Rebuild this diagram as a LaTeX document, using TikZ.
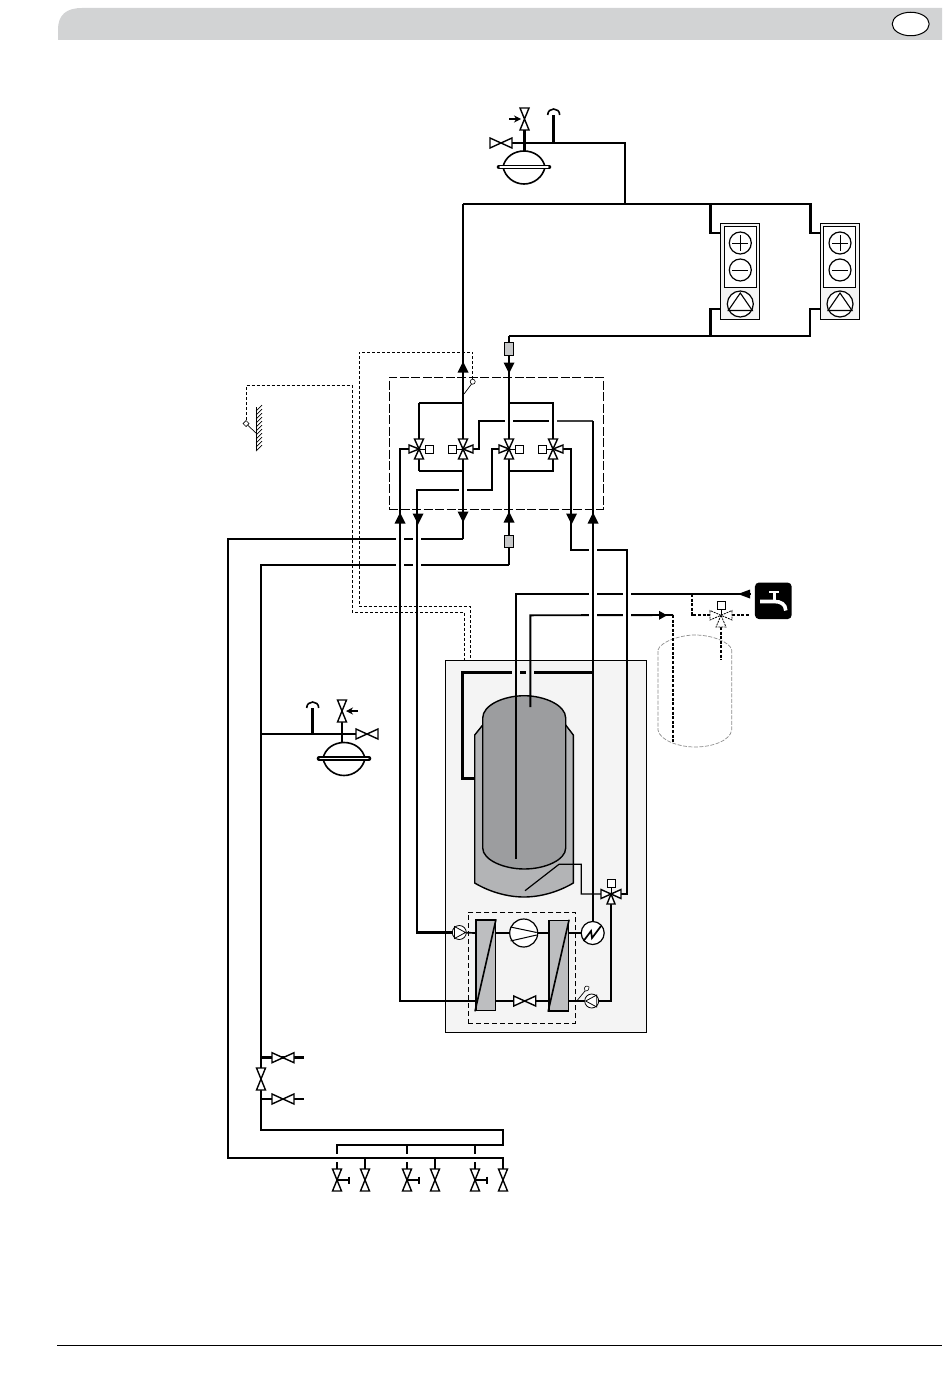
\documentclass[tikz,border=0pt]{standalone}
\usetikzlibrary{arrows.meta, positioning, shapes.geometric}
\definecolor{bandgray}{HTML}{D2D3D4}
\definecolor{panelgray}{HTML}{F4F4F4}
\definecolor{tankdark}{HTML}{9C9D9F}
\definecolor{tanklight}{HTML}{B3B4B6}
\definecolor{plategray}{HTML}{BDBEC0}
\newcommand{\pipegap}[3][white]{\fill[#1] (#2-4,#3-2) rectangle (#2+4,#3+2);}
\tikzset{
  pipe/.style     = {line width=2.5pt, line join=miter},
  waterline/.style= {line width=1.9pt, line join=miter},
  innerline/.style= {line width=1.7pt},
  thinline/.style = {line width=1.2pt},
  wire/.style     = {line width=0.8pt, dash pattern=on 3pt off 2pt},
  future/.style   = {line width=2pt, dash pattern=on 3pt off 1.6pt},
  symbol/.style   = {line width=1.4pt, draw=black, fill=white},
  panelbox/.style = {rectangle, draw, fill=panelgray, line width=1pt, inner sep=0pt},
  coilbox/.style  = {rectangle, draw, fill=panelgray, line width=1pt, inner sep=0pt,
                     minimum width=39pt, minimum height=96pt},
  dialbox/.style  = {rectangle, draw, fill=white, line width=1pt, inner sep=0pt,
                     minimum width=32pt, minimum height=61pt},
  filterbox/.style= {rectangle, draw, fill=plategray!85, line width=1pt, inner sep=0pt,
                     minimum width=9.4pt, minimum height=12.5pt},
  platebox/.style = {rectangle, draw, fill=plategray, line width=1.5pt, inner sep=0pt,
                     minimum width=19.5pt, minimum height=90.5pt},
  round/.style    = {circle, draw, fill=white, line width=1.2pt, inner sep=0pt},
  squarebox/.style= {rectangle, draw, fill=white, line width=0.9pt, inner sep=0pt,
                     minimum size=8pt},
  gatevalve/.pic  = {\draw[symbol] (-11,-5) -- (11,5) -- (11,-5) -- (-11,5) -- cycle;},
  flowhead/.pic   = {\fill (-5.5,5.5) -- (0,-5.5) -- (5.5,5.5) -- cycle;},
  threeway/.pic   = {
    \draw[black, line width=1pt] (0,0) -- (7,0);
    \draw[symbol] (0,0) -- (-4.5,-10) -- (4.5,-10) -- cycle;
    \draw[symbol] (0,0) -- (-4.5,10) -- (4.5,10) -- cycle;
    \draw[symbol] (0,0) -- (-10,-4) -- (-10,4) -- cycle;
    \node[squarebox] at (10.8,0) {};},
  handvalve/.pic  = {
    \draw[pipe] (0,0) -- (12,0);
    \draw[pipe] (12,-3.5) -- (12,3.5);
    \draw[symbol] (-4.5,-11) -- (4.5,11) -- (-4.5,11) -- (4.5,-11) -- cycle;},
  plainvalve/.pic = {\draw[symbol] (-4.5,-11) -- (4.5,11) -- (-4.5,11) -- (4.5,-11) -- cycle;},
  ventcap/.pic    = {\draw[line width=1.6pt] (-6,0) .. controls (-6,-8) and (6,-8) .. (6,0);},
  vessel/.pic     = {
    \draw[symbol, line width=1.6pt] (-21,0) .. controls (-19,-10) and (-10,-16) .. (0,-16)
        .. controls (10,-16) and (19,-10) .. (21,0)
        .. controls (19,10) and (10,17) .. (0,17)
        .. controls (-10,17) and (-19,10) .. (-21,0) -- cycle;
    \draw[line width=4.6pt, line cap=round] (-25,0) -- (25,0);
    \draw[white, line width=1.4pt, line cap=round] (-24,0) -- (24,0);},
  fancoil/.pic    = {
    \node[coilbox] (-box) at (0,0) {};
    \node[dialbox] at (-0.2,-14.5) {};
    \node[round, minimum size=22pt] at (0,-28) {};
    \draw[line width=1pt] (-8,-28) -- (8,-28) (0,-36) -- (0,-20);
    \node[round, minimum size=22pt] at (0,-1) {};
    \draw[line width=1pt] (-8,-1) -- (8,-1);
    \node[round, minimum size=26pt] at (0,33) {};
    \draw[line width=1.1pt] (0,22) -- (12,39.5) -- (-12,39.5) -- cycle;}
}
\begin{document}
\begin{tikzpicture}[x=1pt, y=-1pt]
  \useasboundingbox (0,0) rectangle (950,1378);

  % page band and foot line
  \fill[bandgray] (58,40) -- (58,30) .. controls (58,15) and (66,8) .. (82,8)
      -- (942,8) -- (942,40) -- cycle;
  \node[ellipse, draw, fill=white, line width=1pt, minimum width=37pt, minimum height=23.5pt,
        inner sep=0pt] (langmark) at (910.7,24) {};
  \draw[line width=0.8pt] (57,1345.5) -- (942,1345.5);

  % boxes
  \node[panelbox, minimum width=201.5pt, minimum height=372.5pt] (unitcase) at (546,846.5) {};
  \node[draw, line width=0.8pt, dash pattern=on 9pt off 2.5pt, minimum width=214pt,
        minimum height=132pt, inner sep=0pt] (hydrokit) at (496,443) {};

  % coordinates of the circuit
  \coordinate (valveA) at (419,449);
  \coordinate (valveB) at (463,449);
  \coordinate (valveC) at (509,449);
  \coordinate (valveD) at (553,449);
  \coordinate (mixvalve) at (611,894);
  \coordinate (heater) at (592.7,933);
  \coordinate (pumpA) at (459.3,932.5);
  \coordinate (pumpB) at (591.7,1001);
  \coordinate (teeTop) at (625,204);
  \coordinate (bankTop) at (463,204);
  \coordinate (bankBack) at (509,336);
  \coordinate (drainTee) at (463,539);
  \coordinate (returnTee) at (509,565);
  \coordinate (coldTee) at (691.7,594);
  \coordinate (hotEnd) at (673,615);
  \coordinate (tapEnd) at (751,594);

  % upper vessel group
  \draw[pipe] (512,143) -- (625,143) -- (teeTop);
  \draw[pipe] (524.5,130) -- (524.5,152);
  \draw[pipe] (553.7,143) -- (553.7,115);
  \pic at (553.7,115) {ventcap};
  \pic at (524,167) {vessel};
  \pic at (501,143) {gatevalve};
  \pic at (524.5,119) {plainvalve};
  \draw[-{Stealth[length=7pt,width=7pt]}, line width=1.1pt] (509,119) -- (521,119);

  % header to the coils
  \draw[pipe] (bankTop) -- (810.7,204) -- (810.7,233) -- (821,233);
  \draw[pipe] (710.7,204) -- (710.7,233) -- (721,233);
  \draw[pipe] (bankBack) -- (810,336) -- (810,309) -- (821,309);
  \draw[pipe] (710.7,336) -- (710.7,309) -- (721,309);
  \pic (coilA) at (740.3,271) {fancoil};
  \pic (coilB) at (840,271) {fancoil};

  % room thermostat wires
  \draw[wire] (246,420) -- (246,385.7) -- (352,385.7) -- (352,612) -- (464.3,612) -- (464.3,660);
  \draw[wire] (472.7,379) -- (472.7,352) -- (359,352) -- (359,606.7) -- (470.3,606.7) -- (470.3,660);
  \draw[line width=0.7pt] (464,394) -- (471.5,384);
  \node[circle, draw, fill=white, line width=0.6pt, minimum size=5pt, inner sep=0pt] (flowprobe) at (472.7,381.7) {};
  \draw[line width=0.9pt] (256,407) -- (256,450);
  \draw[line width=0.7pt] (256,411) -- (262,405) (256,415) -- (262,409) (256,419) -- (262,413)
      (256,423) -- (262,417) (256,427) -- (262,421) (256,431) -- (262,425) (256,435) -- (262,429)
      (256,439) -- (262,433) (256,443) -- (262,437) (256,447) -- (262,441) (256,451) -- (262,445);
  \draw[line width=0.7pt, fill=white] (246,420.5) -- (249,423.5) -- (246,426.5) -- (243,423.5) -- cycle;
  \draw[line width=0.7pt] (248,425.5) -- (256,433);

  % lower mains
  \draw[pipe] (drainTee) -- (228,539) -- (228,1158) -- (503,1158) -- (503,1169);
  \draw[pipe] (returnTee) -- (261,565) -- (261,1130) -- (503,1130) -- (503,1145) -- (337,1145) -- (337,1154);
  \draw[pipe] (valveD) -- (571,449) -- (571,550) -- (627,550) -- (627,894) -- (mixvalve);
  \pipegap{400}{539}
  \pipegap{417}{539}
  \pipegap{400}{565}
  \pipegap{417}{565}
  \pipegap{593}{550}

  % water side
  \draw[pipe] (valveA) -- (400,449) -- (400,1001) -- (476,1001);
  \draw[pipe] (valveC) -- (492,449) -- (492,490) -- (417,490) -- (417,932.5) -- (pumpA);
  \pipegap{463}{490}
  \draw[pipe] (bankTop) -- (drainTee);
  \draw[pipe] (419,403) -- (463,403);
  \draw[pipe] (419,471) -- (463,471);
  \draw[pipe] (valveA) -- (419,403);
  \draw[pipe] (valveA) -- (419,471);
  \draw[pipe] (valveD) -- (553,403) -- (509,403);
  \draw[pipe] (valveD) -- (553,471) -- (509,471);
  \draw[pipe, black!75] (557,421) -- (593,421);
  \draw[pipe] (valveB) -- (479,449) -- (479,421) -- (557,421);
  \pipegap{509}{421}
  \pipegap{553}{421}
  \draw[pipe] (valveD) -- (553,403);
  \draw[pipe] (bankBack) -- (returnTee);

  % filters
  \node[filterbox] (filterTop) at (509,349) {};
  \node[filterbox] (filterLow) at (509,541.5) {};

  % valves of the kit
  \pic at (valveA) {threeway};
  \pic[xscale=-1] at (valveB) {threeway};
  \pic at (valveC) {threeway};
  \pic[xscale=-1] at (valveD) {threeway};

  % flow heads
  \pic at (463,367) {flowhead};
  \pic[rotate=180] at (509,368) {flowhead};
  \pic at (400,518) {flowhead};
  \pic[rotate=180] at (418,519) {flowhead};
  \pic[rotate=180] at (463,517) {flowhead};
  \pic at (509,517) {flowhead};
  \pic[rotate=180] at (571.5,519) {flowhead};
  \pic at (593,518) {flowhead};

  % tank
  \draw[line width=1.4pt, fill=tanklight] (474.7,735) -- (482.7,725) -- (565.7,725) -- (573.3,735)
      -- (573.3,883) .. controls (560,891) and (542,897) .. (524,897)
      .. controls (506,897) and (488,891) .. (474.7,883) -- cycle;
  \draw[line width=1.4pt, fill=tankdark] (482.7,718) .. controls (482.7,705) and (504,695.7) .. (524.2,695.7)
      .. controls (544,695.7) and (565.7,705) .. (565.7,718) -- (565.7,848)
      .. controls (565.7,860) and (545,869) .. (524.2,869)
      .. controls (504,869) and (482.7,860) .. (482.7,848) -- cycle;
  \draw[pipe] (474.7,778.7) -- (462.7,778.7) -- (462.7,672.7) -- (593,672.7);
  \pipegap[panelgray]{516}{672.7}
  \pipegap[panelgray]{530}{672.7}

  % domestic water
  \draw[waterline] (516,859) -- (516,594) -- (tapEnd);
  \draw[waterline] (530.3,707) -- (530.3,615.3) -- (hotEnd);
  \pipegap{593}{594}
  \pipegap{627}{594}
  \pipegap{593}{615.3}
  \pipegap{627}{615.3}
  \draw[pipe] (593,421) -- (593,923);
  \draw[pipe] (627,550) -- (627,894);
  \fill (738,594) -- (750,589.5) -- (750,598.5) -- cycle;
  \fill (667,615.3) -- (659,610.8) -- (659,619.8) -- cycle;

  % optional tank, dashed
  \draw[draw=black!45, line width=0.7pt, dash pattern=on 4pt off 1.5pt]
      (658,650) .. controls (660,642) and (680,635) .. (695,635)
      .. controls (712,635) and (730,642) .. (731.7,650) -- (731.7,730)
      .. controls (730,741) and (712,747) .. (695,747)
      .. controls (680,747) and (660,741) .. (658,730) -- cycle;
  \draw[future] (hotEnd) -- (673,743);
  \draw[future] (coldTee) -- (691.7,615.3) -- (710,615.3);
  \draw[future] (732,615.3) -- (750,615.3);
  \draw[future] (721,627) -- (721,660);
  \draw[line width=0.8pt, fill=white, dash pattern=on 2pt off 1pt] (721,615.3) -- (710,610.5) -- (710,620) -- cycle;
  \draw[line width=0.8pt, fill=white, dash pattern=on 2pt off 1pt] (721,615.3) -- (732,610.5) -- (732,620) -- cycle;
  \draw[line width=0.8pt, fill=white, dash pattern=on 2pt off 1pt] (721,615.3) -- (716,627) -- (726,627) -- cycle;
  \draw[line width=0.8pt] (721,615.3) -- (721,609);
  \node[squarebox] (mixsquare) at (721.3,605.3) {};

  % tap
  \node[rectangle, rounded corners=4pt, fill=black, minimum width=36.7pt, minimum height=36.5pt,
        inner sep=0pt] (tap) at (773.3,600.8) {};
  \draw[white, line width=3.6pt] (760,601.5) -- (774,601.5) .. controls (781,601.5) and (785.5,604) .. (785.8,610.5);
  \draw[white, line width=3pt] (774,593) -- (774,601);
  \draw[white, line width=2.2pt] (769,592) -- (779,592);

  % refrigerant circuit
  \draw[thinline] (525,890.7) -- (559,864.3) -- (581.3,864.3) -- (581.3,894) -- (601,894);
  \draw[innerline] (pumpA) -- (476,933);
  \draw[innerline] (495,933) -- (549,933);
  \draw[innerline] (568,933) -- (heater);
  \draw[innerline] (476,1001) -- (549,1001);
  \draw[innerline] (568,1001) -- (pumpB);
  \draw[pipe] (pumpB) -- (611,1001) -- (mixvalve);
  \node[draw, line width=0.9pt, dash pattern=on 5pt off 3pt, minimum width=107pt, minimum height=111pt,
        inner sep=0pt] (coolkit) at (521.8,967.8) {};
  \node[platebox] (evap) at (485.5,965.3) {};
  \node[platebox] (cond) at (558.6,965.7) {};
  \draw[line width=1.6pt] (evap.south west) -- (evap.north east);
  \draw[line width=1.6pt] (cond.south west) -- (cond.north east);
  \node[round, minimum size=28pt] (compressor) at (523.7,933) {};
  \draw[line width=1pt] (510.5,927) -- (536.7,932.5) (510.5,941) -- (536.7,935);
  \pic at (524.7,1001) {gatevalve};
  \node[round, minimum size=23pt] (heaterdisc) at (heater) {};
  \draw[line width=1.7pt] (583.5,941) -- (591,931) -- (592,938) -- (601,926);
  \node[round, line width=0.8pt, minimum size=14pt] (pumpAdisc) at (pumpA) {};
  \draw[line width=0.8pt] (454.5,926.5) -- (465.5,932.5) -- (454.5,938.5) -- cycle;
  \node[round, line width=0.8pt, minimum size=14pt] (pumpBdisc) at (pumpB) {};
  \draw[line width=0.8pt] (596.7,995) -- (585.7,1001) -- (596.7,1007) -- cycle;
  \draw[line width=0.6pt, fill=white] (585,991) .. controls (583,986) and (587,985) .. (589,987)
      .. controls (590,989) and (588,991) .. (585,991) -- cycle;
  \draw[line width=0.7pt] (576.7,1001) -- (585,991);
  \pic[rotate=90] at (mixvalve) {threeway};

  % lower vessel group
  \draw[line width=1.8pt] (261,734) -- (356,734);
  \draw[pipe] (342,722) -- (342,742);
  \draw[pipe] (312.7,734) -- (312.7,708);
  \pic at (312.7,708) {ventcap};
  \pic at (344,758.5) {vessel};
  \pic at (367,734) {gatevalve};
  \pic at (342,711) {plainvalve};
  \draw[-{Stealth[length=7pt,width=7pt]}, line width=1.1pt] (358,711) -- (346,711);

  % valves on the return
  \draw[pipe] (261,1057.7) -- (304,1057.7);
  \draw[pipe] (261,1099) -- (304,1099);
  \pic at (283,1057.7) {gatevalve};
  \pic at (283,1099) {gatevalve};
  \pic at (261,1079) {plainvalve};

  % outlets
  \draw[pipe] (407,1145) -- (407,1154);
  \draw[pipe] (475,1145) -- (475,1154);
  \draw[pipe] (337,1162) -- (337,1170);
  \draw[pipe] (407,1162) -- (407,1170);
  \draw[pipe] (475,1162) -- (475,1170);
  \draw[pipe] (365,1158) -- (365,1170);
  \draw[pipe] (435,1158) -- (435,1170);
  \pic at (337,1180) {handvalve};
  \pic at (365,1180) {plainvalve};
  \pic at (407,1180) {handvalve};
  \pic at (435,1180) {plainvalve};
  \pic at (475,1180) {handvalve};
  \pic at (503,1180) {plainvalve};
\end{tikzpicture}
\end{document}
